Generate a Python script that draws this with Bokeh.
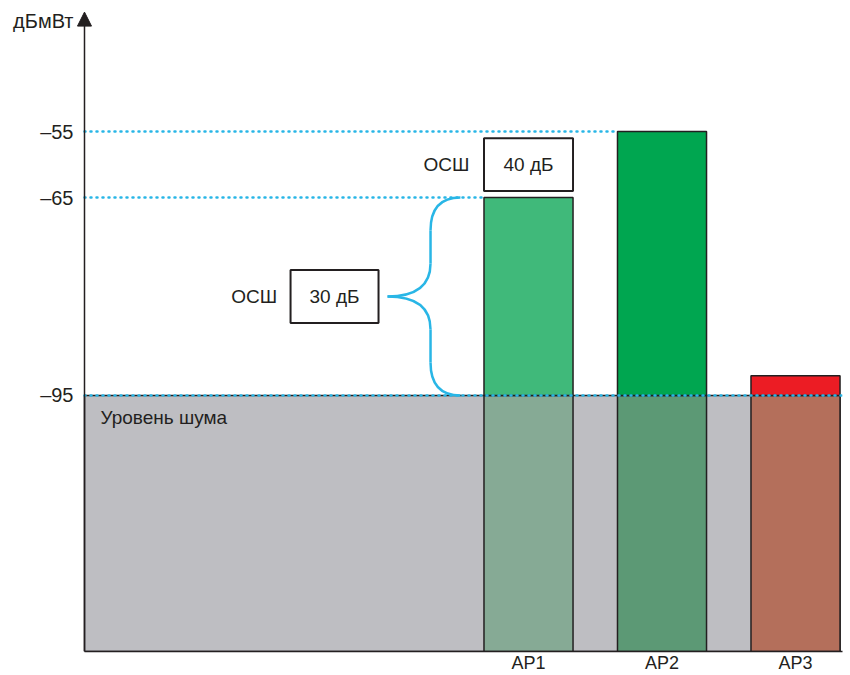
from bokeh.plotting import figure
from bokeh.models import Range1d, FixedTicker, Arrow, NormalHead
from bokeh.core.properties import value
from bokeh.embed import file_html
from bokeh.resources import INLINE

# ---- data ----
categories = ["AP1", "AP2", "AP3"]
ap_positions = [1, 2, 3]
signal_dbm = [-65, -55, -92]
noise_floor_dbm = -95
y_ticks = [-55, -65, -95]
y_tick_labels = ["–55", "–65", "–95"]
y_unit = "дБмВт"
noise_label = "Уровень шума"
snr_caption = "ОСШ"
upper_colors = ["#40b97a", "#00a650", "#ec1c24"]
lower_colors = ["#86aa95", "#5c9975", "#b46f5b"]

FONT_NAME = "Liberation Sans"
FONT = value(FONT_NAME)
TXT = "#231f20"
CYAN = "#29b6e6"

PX_X = 133.5            # pixels per x unit
PX_Y = 6.6              # pixels per dB
AX = -2.326             # where the value axis is drawn
X0 = AX - 8 / PX_X      # frame starts a little left of the axis (room for arrow head)
X1 = 3.352
Y0, Y1 = -133.8, -35.9
BW = 0.667

p = figure(width=850, height=675, x_range=Range1d(X0, X1), y_range=Range1d(Y0, Y1),
           output_backend="svg", toolbar_location=None,
           min_border_left=76, min_border_right=8, min_border_top=5, min_border_bottom=24)
p.grid.visible = False
p.outline_line_color = None
p.background_fill_color = "white"

# noise floor area
right_edge = ap_positions[-1] + BW / 2
p.quad(left=[AX], right=[right_edge], bottom=[Y0], top=[noise_floor_dbm],
       fill_color="#bebec2", line_color=TXT, line_width=1.5)

# bars below the noise floor
p.vbar(x=ap_positions, width=BW, bottom=Y0, top=noise_floor_dbm,
       fill_color=lower_colors, line_color=TXT, line_width=1.5)
# bars above the noise floor
p.vbar(x=ap_positions, width=BW, bottom=noise_floor_dbm, top=signal_dbm,
       fill_color=upper_colors, line_color=TXT, line_width=1.5)

# dotted reference lines
ap1, ap2 = 0, 1
dot_y = [signal_dbm[ap2], signal_dbm[ap1], noise_floor_dbm]
dot_x1 = [ap_positions[ap2] - BW / 2, ap_positions[ap1] - BW / 2, X1]
p.segment(x0=[AX] * 3, y0=dot_y, x1=dot_x1, y1=dot_y,
          line_color=CYAN, line_width=2.5, line_dash="1 5", line_cap="round")

# curly brace for AP1 SNR
ytop, ybot = signal_dbm[ap1], noise_floor_dbm
ymid = (ytop + ybot) / 2
xe, xm, xt = 0.49, 0.266, -0.056
r1, r2 = 5.0, 5.0
p.quadratic(x0=[xe, xe, xm, xm], y0=[ytop, ybot, ymid + r2, ymid - r2],
            x1=[xm, xm, xt, xt], y1=[ytop - r1, ybot + r1, ymid, ymid],
            cx=[xm, xm, xm, xm], cy=[ytop, ybot, ymid, ymid],
            line_color=CYAN, line_width=2.5)
p.segment(x0=[xm, xm], y0=[ytop - r1, ymid - r2], x1=[xm, xm], y1=[ymid + r2, ybot + r1],
          line_color=CYAN, line_width=2.5)

# SNR boxes
snr_texts = [f"{s - noise_floor_dbm:.0f} дБ" for s in signal_dbm[:2]]
box_x = [-0.453, ap_positions[ap1]]
box_y = [ymid, (signal_dbm[ap1] + signal_dbm[ap2]) / 2]
box_w = [0.659, BW]
box_h = [8.0, 8.0]
p.rect(x=box_x, y=box_y, width=box_w, height=box_h,
       fill_color="white", line_color=TXT, line_width=2)
p.text(x=box_x, y=box_y, text=snr_texts, text_font=FONT, text_font_size="19px",
       text_align="center", text_baseline="middle", text_color=TXT)
cap_x = [box_x[0] - box_w[0] / 2 - 0.1, box_x[1] - box_w[1] / 2 - 0.11]
p.text(x=cap_x, y=box_y, text=[snr_caption] * 2, text_font=FONT, text_font_size="19px",
       text_align="right", text_baseline="middle", text_color=TXT)

# noise label
p.text(x=[AX + 0.12], y=[noise_floor_dbm], text=[noise_label], text_font=FONT,
       text_font_size="19px", text_align="left", text_baseline="top",
       y_offset=12, text_color=TXT)

# axes: the unit name sits at the top of the value axis, beside the arrow head
unit_pos = Y1 - 16 / PX_Y
p.yaxis.ticker = FixedTicker(ticks=y_ticks + [unit_pos])
p.yaxis.major_label_overrides = {**dict(zip(y_ticks, y_tick_labels)), unit_pos: y_unit}
p.yaxis.major_tick_out = 0
p.yaxis.major_tick_in = 0
p.yaxis.minor_tick_out = 0
p.yaxis.minor_tick_in = 0
p.yaxis.axis_line_color = None
p.yaxis.major_label_standoff = 3
p.yaxis.major_label_text_font = FONT_NAME
p.yaxis.major_label_text_font_size = "20px"
p.yaxis.major_label_text_color = TXT

p.xaxis.ticker = FixedTicker(ticks=ap_positions)
p.xaxis.major_label_overrides = dict(zip(ap_positions, categories))
p.xaxis.bounds = (AX, X1)
p.xaxis.major_tick_out = 0
p.xaxis.major_tick_in = 0
p.xaxis.minor_tick_out = 0
p.xaxis.minor_tick_in = 0
p.xaxis.axis_line_color = TXT
p.xaxis.axis_line_width = 1.5
p.xaxis.major_label_standoff = 1
p.xaxis.major_label_text_font = FONT_NAME
p.xaxis.major_label_text_font_size = "18px"
p.xaxis.major_label_text_color = TXT

# axis arrow
arrow_tip = Y1 - 1.0
p.add_layout(Arrow(end=NormalHead(size=14, fill_color=TXT, line_color=TXT),
                   x_start=AX, y_start=Y0, x_end=AX, y_end=arrow_tip,
                   line_color=TXT, line_width=1.5))

open("out.html", "w").write(file_html(p, INLINE))
